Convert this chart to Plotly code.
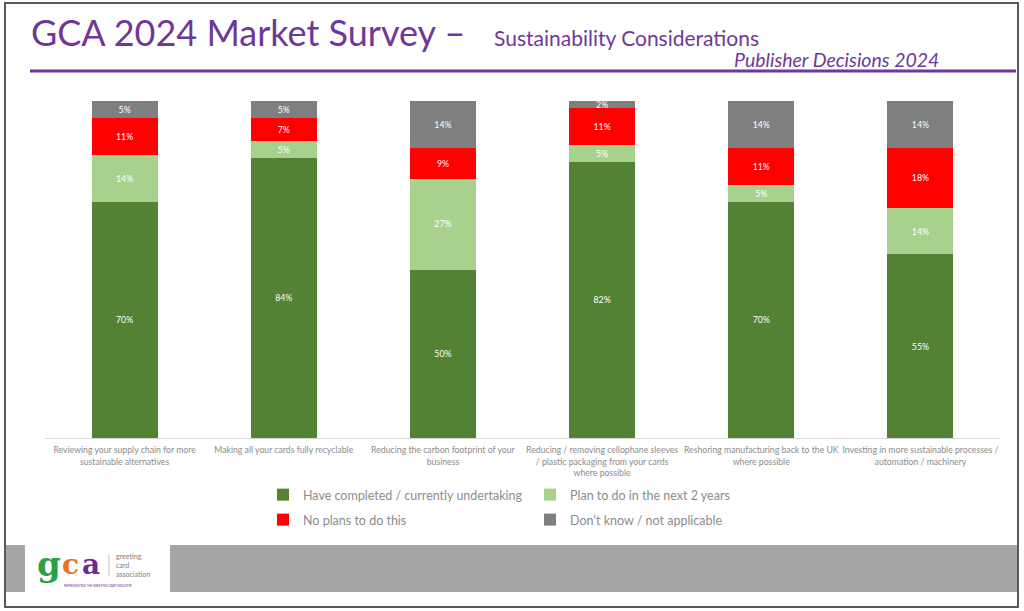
import plotly.graph_objects as go

categories = [
    "Reviewing your supply chain for more<br>sustainable alternatives",
    "Making all your cards fully recyclable",
    "Reducing the carbon footprint of your<br>business",
    "Reducing / removing cellophane sleeves<br>/ plastic packaging from your cards<br>where possible",
    "Reshoring manufacturing back to the UK<br>where possible",
    "Investing in more sustainable processes /<br>automation / machinery",
]
completed = [70, 84, 50, 82, 70, 55]
plan_2_years = [14, 5, 27, 5, 5, 14]
no_plans = [11, 7, 9, 11, 11, 18]
dont_know = [5, 5, 14, 2, 14, 14]

series = [
    ("Have completed / currently undertaking", completed, "#548235", "legend"),
    ("Plan to do in the next 2 years", plan_2_years, "#A9D18E", "legend"),
    ("No plans to do this", no_plans, "#FF0000", "legend2"),
    ("Don\u2019t know / not applicable", dont_know, "#7F7F7F", "legend2"),
]

FONT = "Lato, 'Open Sans', sans-serif"

fig = go.Figure()
for name, vals, color, lg in series:
    fig.add_trace(go.Bar(
        x=categories, y=vals, name=name,
        marker=dict(color=color, line=dict(width=0)),
        text=[f"{v}%" for v in vals],
        textposition="inside", insidetextanchor="middle",
        textfont=dict(color="white", size=9, family=FONT),
        legend=lg,
    ))

# plot area in pixels
L, R, T, B = 45, 1000, 101, 438
W, H = 1024, 611


def px(x):
    return (x - L) / (R - L)


def py(y):
    return (B - y) / (B - T)


shapes = [
    # slide border
    dict(type="rect", xref="paper", yref="paper", x0=px(5), x1=px(1018), y0=py(3), y1=py(607),
         line=dict(color="#595959", width=2), layer="below"),
    # purple underline
    dict(type="line", xref="paper", yref="paper", x0=px(30), x1=px(1016), y0=py(71), y1=py(71),
         line=dict(color="#70379A", width=3)),
    # footer grey bands
    dict(type="rect", xref="paper", yref="paper", x0=px(6), x1=px(25), y0=py(545), y1=py(592),
         fillcolor="#A6A6A6", line=dict(width=0), layer="below"),
    dict(type="rect", xref="paper", yref="paper", x0=px(170), x1=px(1017), y0=py(545), y1=py(592),
         fillcolor="#A6A6A6", line=dict(width=0), layer="below"),
    # logo divider
    dict(type="line", xref="paper", yref="paper", x0=px(109), x1=px(109), y0=py(555), y1=py(576),
         line=dict(color="#BFBFBF", width=1)),
]

annotations = [
    dict(text="GCA 2024 Market Survey \u2013", x=px(29), y=py(32), xref="paper", yref="paper",
         xanchor="left", yanchor="middle", showarrow=False,
         font=dict(family=FONT, size=36, color="#70379A")),
    dict(text="Sustainability Considerations", x=px(492), y=py(37), xref="paper", yref="paper",
         xanchor="left", yanchor="middle", showarrow=False,
         font=dict(family=FONT, size=21, color="#70379A")),
    dict(text="<i>Publisher Decisions 2024</i>", x=px(941), y=py(60), xref="paper", yref="paper",
         xanchor="right", yanchor="middle", showarrow=False,
         font=dict(family=FONT, size=19.5, color="#70379A")),
    # logo
    dict(text="<b>g</b>", x=px(49), y=py(564), xref="paper", yref="paper", xanchor="center",
         yanchor="middle", showarrow=False, font=dict(family="DejaVu Serif", size=34, color="#2E9E48")),
    dict(text="<b>c</b>", x=px(70), y=py(564), xref="paper", yref="paper", xanchor="center",
         yanchor="middle", showarrow=False, font=dict(family="DejaVu Serif", size=28, color="#E8731E")),
    dict(text="<b>a</b>", x=px(91), y=py(564), xref="paper", yref="paper", xanchor="center",
         yanchor="middle", showarrow=False, font=dict(family="DejaVu Serif", size=28, color="#6B2C91")),
    dict(text="greeting<br>card<br>association", x=px(114), y=py(565), xref="paper", yref="paper",
         xanchor="left", yanchor="middle", showarrow=False, align="left",
         font=dict(family=FONT, size=7, color="#808080")),
    dict(text="REPRESENTING THE GREETING CARD INDUSTRY", x=px(62), y=py(586), xref="paper", yref="paper",
         xanchor="left", yanchor="middle", showarrow=False,
         font=dict(family=FONT, size=3, color="#6B2C91")),
]

legend_common = dict(
    orientation="h", xref="paper", yref="paper", xanchor="left", yanchor="middle",
    entrywidth=222, entrywidthmode="pixels", itemwidth=30, traceorder="normal",
    font=dict(size=12.5, color="#8C8C8C", family=FONT),
    bgcolor="rgba(0,0,0,0)", tracegroupgap=0, itemclick=False,
)

fig.update_layout(
    width=W, height=H,
    barmode="stack", barnorm="percent", bargap=0.585,
    margin=dict(l=L, r=W - R, t=T, b=H - B, autoexpand=False),
    paper_bgcolor="white", plot_bgcolor="white",
    font=dict(family=FONT, color="#7F7F7F"),
    showlegend=True,
    legend=dict(x=px(263), y=py(495), **legend_common),
    legend2=dict(x=px(263), y=py(520), **legend_common),
    xaxis=dict(showline=True, linecolor="#D9D9D9", linewidth=1, ticks="", tickangle=0,
               ticklabelstandoff=4,
               tickfont=dict(size=8.7, color="#8C8C8C", family=FONT), fixedrange=True),
    yaxis=dict(range=[0, 100], showgrid=False, showticklabels=False, zeroline=False,
               showline=False, fixedrange=True),
    shapes=shapes, annotations=annotations,
    uniformtext=dict(minsize=8, mode="show"),
)

fig.write_html("out.html", config={"displayModeBar": False},
               post_script="document.body.style.margin='0';document.body.style.overflow='hidden';")
